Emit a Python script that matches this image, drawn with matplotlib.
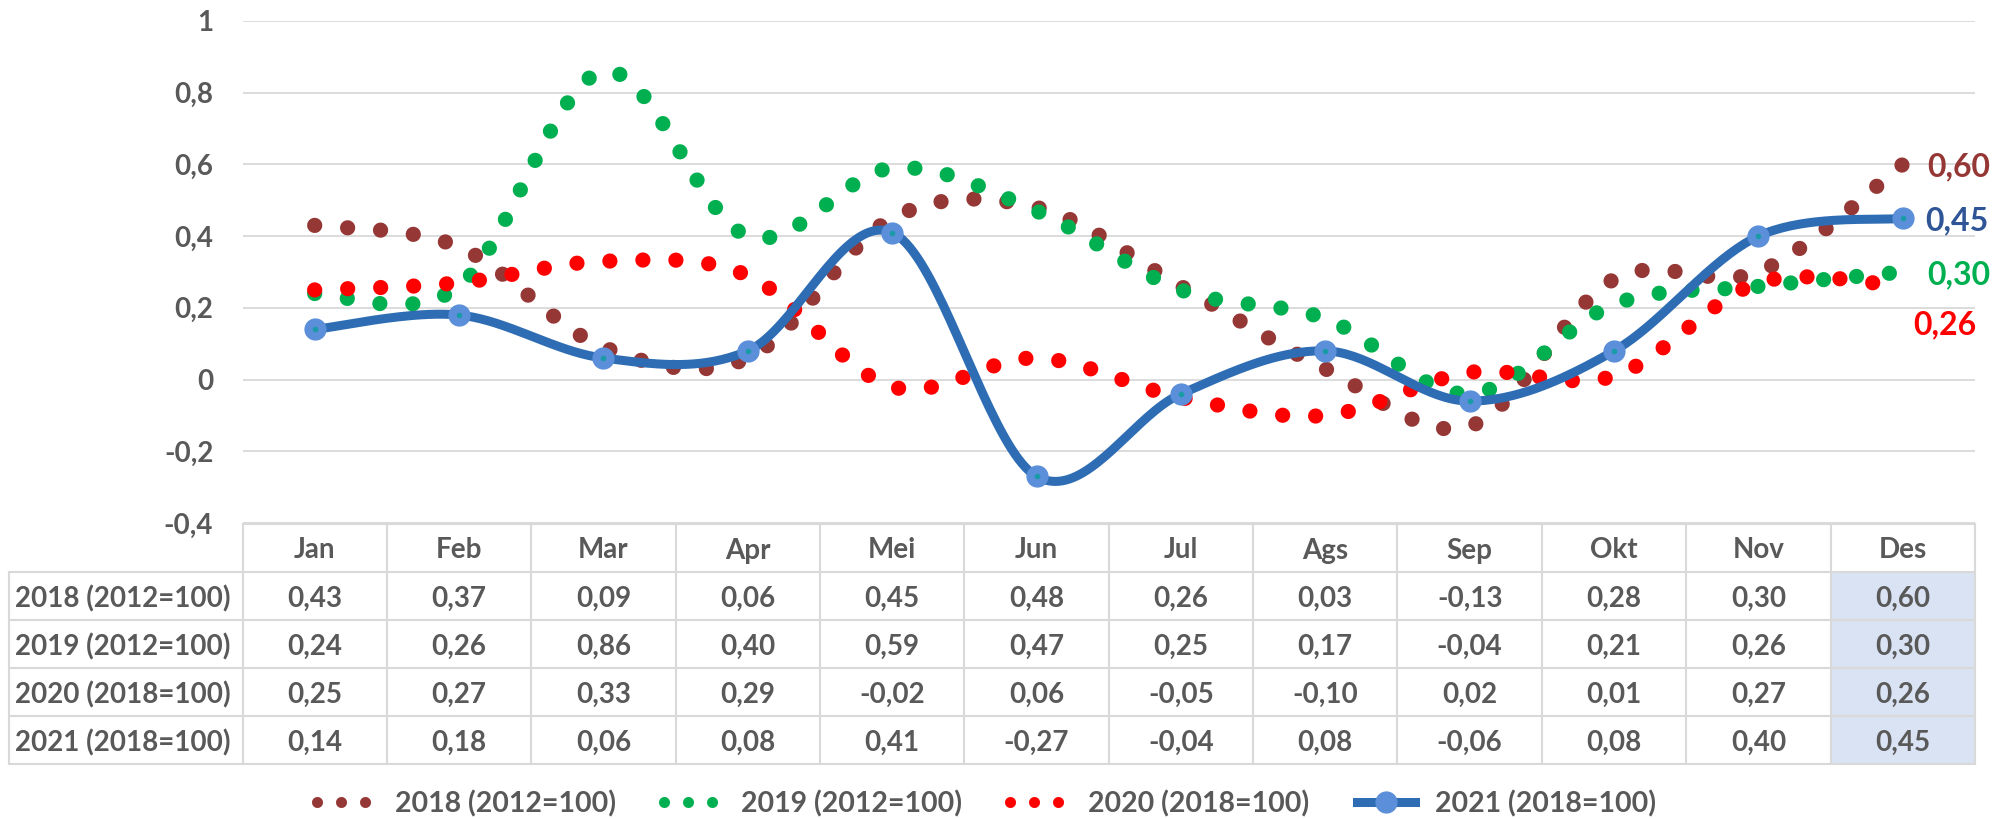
import numpy as np
import matplotlib.pyplot as plt
from matplotlib.lines import Line2D
from matplotlib.patches import Rectangle

plt.rcParams['font.family'] = ['Lato', 'DejaVu Sans']
plt.rcParams['font.weight'] = 'bold'
plt.rcParams['text.color'] = '#595959'

months = ["Jan", "Feb", "Mar", "Apr", "Mei", "Jun", "Jul", "Ags", "Sep", "Okt", "Nov", "Des"]
names = ["2018 (2012=100)", "2019 (2012=100)", "2020 (2018=100)", "2021 (2018=100)"]
v2018 = [0.43, 0.37, 0.09, 0.06, 0.45, 0.48, 0.26, 0.03, -0.13, 0.28, 0.30, 0.60]
v2019 = [0.24, 0.26, 0.86, 0.40, 0.59, 0.47, 0.25, 0.17, -0.04, 0.21, 0.26, 0.30]
v2020 = [0.25, 0.27, 0.33, 0.29, -0.02, 0.06, -0.05, -0.10, 0.02, 0.01, 0.27, 0.26]
v2021 = [0.14, 0.18, 0.06, 0.08, 0.41, -0.27, -0.04, 0.08, -0.06, 0.08, 0.40, 0.45]
series = [v2018, v2019, v2020, v2021]

colors = ["#953735", "#00B050", "#FF0000", "#2E6DB4"]
label_colors = ["#953735", "#00B050", "#FF0000", "#2F5597"]
label_offsets = [(24, 0), (24, 0), (10, -36), (22, 0)]  # pixels, Excel moved 0,26 down
marker_fill = "#5B8FD9"
grid_col = "#D9D9D9"


def smooth(y, n=40):
    # Excel-like smoothed line (bezier through the points)
    p = np.column_stack([np.arange(len(y), dtype=float), np.asarray(y, float)])
    out = []
    for i in range(len(p) - 1):
        p0, p1, p2 = p[max(i - 1, 0)], p[i], p[i + 1]
        p3 = p[min(i + 2, len(p) - 1)]
        c1 = p1 + (p2 - p0) / 6
        c2 = p2 - (p3 - p1) / 6
        t = np.linspace(0, 1, n, endpoint=(i == len(p) - 2))[:, None]
        out.append((1 - t)**3 * p1 + 3 * (1 - t)**2 * t * c1 + 3 * (1 - t) * t**2 * c2 + t**3 * p2)
    out = np.vstack(out)
    return out[:, 0], out[:, 1]


def fmt(v):
    if abs(v - round(v)) < 1e-9:
        return str(int(round(v)))
    return f"{v:.1f}".replace('.', ',')


W, H = 2005, 819
fig = plt.figure(figsize=(W / 100, H / 100), dpi=100)
L, R = 242.5, 1975
ax = fig.add_axes([L / W, 1 - 523 / H, (R - L) / W, (523 - 21) / H])
ax.set_xlim(-0.5, 11.5)
ax.set_ylim(-0.4, 1.0)
yt = np.arange(-0.4, 1.01, 0.2)
ax.set_yticks(yt)
ax.set_yticklabels([fmt(v) for v in yt], fontsize=20, color='#595959')
ax.tick_params(axis='y', length=0, pad=21)
ax.set_xticks([])
for s in ax.spines.values():
    s.set_visible(False)
ax.grid(axis='y', color=grid_col, lw=1.3)
ax.set_axisbelow(True)

x = np.arange(len(months))
for i, vals in enumerate(series[:3]):
    xs, ys = smooth(vals)
    ax.plot(xs, ys, color=colors[i], lw=11, dashes=(0.001, 2.16),
            dash_capstyle='round', clip_on=False, zorder=2 + i)
xs, ys = smooth(v2021)
ax.plot(xs, ys, color=colors[3], lw=6.5, solid_capstyle='round', clip_on=False, zorder=6)
ax.plot(x, v2021, ls='none', marker='o', ms=15, mfc=marker_fill, mec=marker_fill,
        clip_on=False, zorder=7)
ax.plot(x, v2021, ls='none', marker='o', ms=3, color='#1A9BA8', clip_on=False, zorder=8)

for i, vals in enumerate(series):
    ax.annotate(f"{vals[-1]:.2f}".replace('.', ','), xy=(11, vals[-1]),
                xytext=label_offsets[i], textcoords='offset pixels',
                ha='left', va='center_baseline', fontsize=23, color=label_colors[i],
                annotation_clip=False)

# data table
tax = fig.add_axes([L / W, 1 - 764 / H, (R - L) / W, (764 - 524) / H])
tax.set_xlim(-0.5, 11.5)
tax.set_ylim(5, 0)
tax.axis('off')
left = -0.5 - (L - 9) / ((R - L) / 12)
tax.add_patch(Rectangle((10.5, 1), 1, 4, color='#DAE3F3', lw=0, zorder=0))
tax.plot([-0.5, 11.5], [0, 0], color=grid_col, lw=1.5, clip_on=False)
for r in range(1, 6):
    tax.plot([left, 11.5], [r, r], color=grid_col, lw=1.5, clip_on=False)
tax.plot([left, left], [1, 5], color=grid_col, lw=1.5, clip_on=False)
for k in range(13):
    tax.plot([k - 0.5, k - 0.5], [0, 5], color=grid_col, lw=1.5, clip_on=False)
for k, m in enumerate(months):
    tax.text(k, 0.5, m, ha='center', va='center_baseline', fontsize=20)
for r, (nm, vals) in enumerate(zip(names, series)):
    tax.text(left + 0.045, r + 1.5, nm, ha='left', va='center_baseline', fontsize=20, clip_on=False)
    for k, v in enumerate(vals):
        tax.text(k, r + 1.5, f"{v:.2f}".replace('.', ','), ha='center',
                 va='center_baseline', fontsize=20)

# legend
handles = [Line2D([], [], color=c, lw=8, dashes=(0.001, 2.16), dash_capstyle='round')
           for c in colors[:3]]
handles.append(Line2D([], [], color=colors[3], lw=6.5, marker='o', ms=15,
                      mfc=marker_fill, mec=marker_fill))
fig.legend(handles, names, loc='center', bbox_to_anchor=(0.492, 0.019), ncol=4,
           frameon=False, handlelength=2.03, handletextpad=0.7, columnspacing=1.68,
           fontsize=20.5, labelcolor='#595959')

fig.savefig("out.png", dpi=100)
